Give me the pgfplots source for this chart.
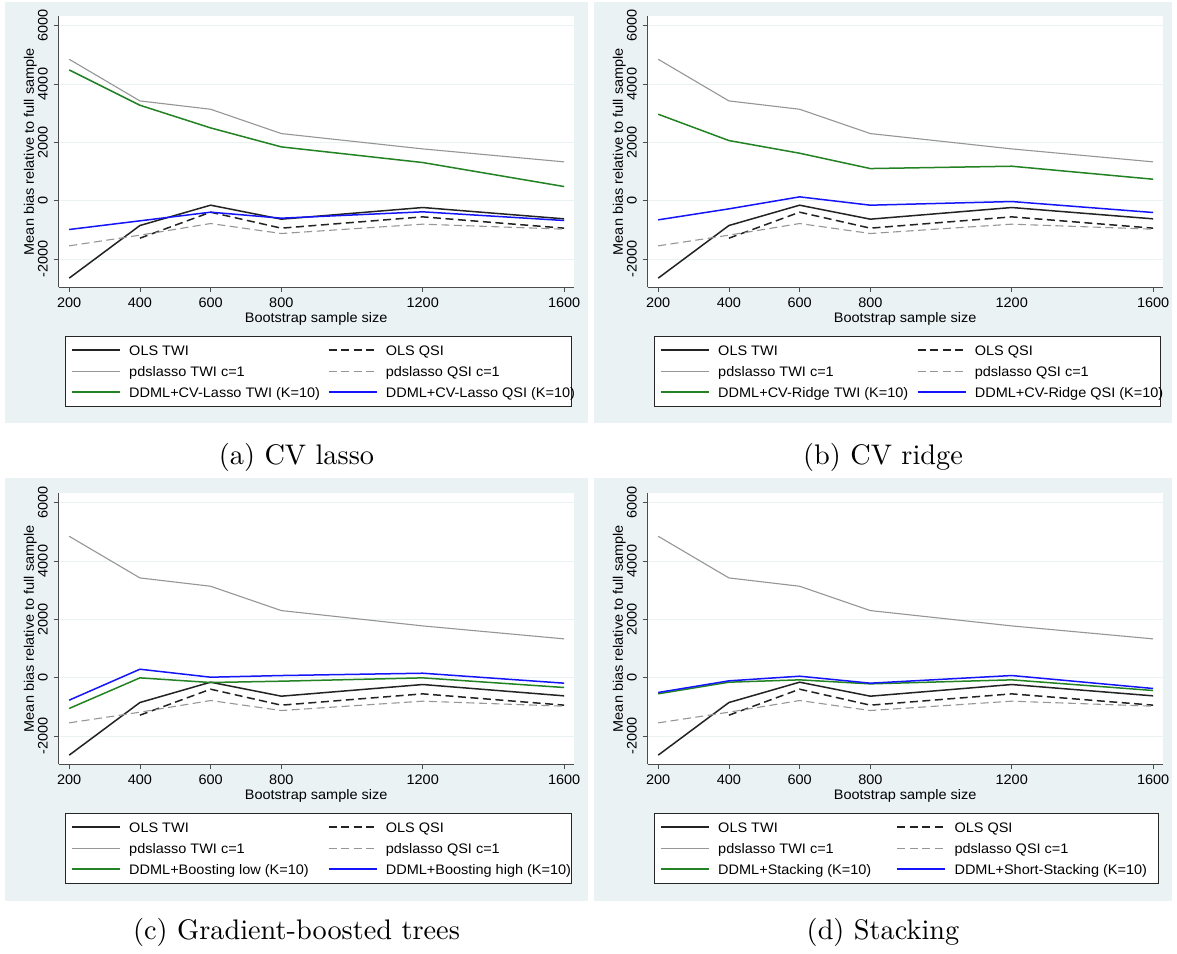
\documentclass[border=0pt]{standalone}
\usepackage{fontspec}
\usepackage{pgfplots}
\pgfplotsset{compat=1.18}
\usepackage{pgfplotstable}
\newfontfamily\statafont[FakeStretch=1.05]{Liberation Sans}
\newfontfamily\capfont{lmroman10-regular.otf}
\newcommand\sfs{\statafont\fontsize{13.8}{16.5}\selectfont}
\newcommand{\lc}[2]{\makebox[#1][l]{#2}}
\definecolor{bgcol}{RGB}{234,242,243}
\definecolor{olsc}{RGB}{35,35,35}
\definecolor{pdsc}{RGB}{150,150,150}
\definecolor{ddmlg}{RGB}{35,130,35}
\definecolor{ddmlb}{RGB}{20,20,250}

\pgfplotstableread{
x y
200 -2646
400 -844
600 -148
800 -627
1200 -228
1600 -616
}\olstwi
\pgfplotstableread{
x y
400 -1278
600 -388
800 -935
1200 -548
1600 -935
}\olsqsi
\pgfplotstableread{
x y
200 4848
400 3422
600 3137
800 2304
1200 1779
1600 1335
}\pdstwi
\pgfplotstableread{
x y
200 -1540
400 -1175
600 -776
800 -1118
1200 -798
1600 -970
}\pdsqsi
% panel a
\pgfplotstableread{
x y
200 4483
400 3274
600 2498
800 1848
1200 1312
1600 490
}\ga
\pgfplotstableread{
x y
200 -981
400 -684
600 -388
800 -593
1200 -376
1600 -673
}\ba
% panel b
\pgfplotstableread{
x y
200 2966
400 2065
600 1631
800 1106
1200 1186
1600 741
}\gb
\pgfplotstableread{
x y
200 -650
400 -274
600 137
800 -148
1200 -23
1600 -399
}\bb
% panel c
\pgfplotstableread{
x y
200 -1047
400 0
600 -159
800 -114
1200 0
1600 -330
}\gc
\pgfplotstableread{
x y
200 -763
400 296
600 23
800 80
1200 159
1600 -182
}\bc
% panel d
\pgfplotstableread{
x y
200 -546
400 -148
600 -68
800 -205
1200 -68
1600 -433
}\gd
\pgfplotstableread{
x y
200 -501
400 -102
600 57
800 -182
1200 80
1600 -364
}\bd

\pgfplotsset{
  statapanel/.style={
    scale only axis, width=515.1pt, height=271.3pt,
    xmin=170, xmax=1627, ymin=-2960, ymax=6330,
    axis x line=bottom, axis y line=left,
    axis line style={-, black!70, line width=0.8pt},
    axis background/.style={fill=white},
    xtick={200,400,600,800,1200,1600},
    xticklabels={200,400,600,800,1200,1600},
    ytick={-2000,0,2000,4000,6000},
    yticklabels={-2000,0,2000,4000,6000},
    tick align=outside, major tick length=5pt,
    tick style={black!70, line width=0.8pt},
    ymajorgrids, major grid style={bgcol, line width=1pt},
    ticklabel style={font=\sfs, inner sep=0pt},
    xticklabel style={anchor=north},
    yticklabel style={rotate=90, anchor=south},
    xticklabel shift=5.6pt, yticklabel shift=5.6pt,
    xlabel={Bootstrap sample size},
    ylabel={Mean bias relative to full sample},
    xlabel style={font=\sfs, at={(axis description cs:0.5,-0.1168)}, anchor=center, inner sep=0pt},
    ylabel style={font=\sfs, at={(axis description cs:-0.0551,0.5)}, anchor=center, inner sep=0pt},
    legend columns=2,
    legend cell align=left,
    legend image code/.code={\draw[##1] (0pt,0pt) -- (48pt,0pt);},
    legend style={
      at={(axis description cs:0.012,-0.1795)}, anchor=north west,
      draw=black!85, line width=0.7pt, fill=white,
      inner xsep=6.1pt, inner ysep=3.3pt,
      font=\sfs,
      nodes={inner xsep=8.5pt, inner ysep=5pt, text height=10.5pt, text depth=0.5pt},
      /tikz/column sep=0pt, /tikz/row sep=0pt,
    },
  },
  pOLSTWI/.style={olsc, line width=1.5pt, line join=round},
  pOLSQSI/.style={olsc, line width=1.5pt, dash pattern=on 8pt off 4.5pt, line join=round},
  pPDSTWI/.style={pdsc, line width=1.1pt, line join=round},
  pPDSQSI/.style={pdsc, line width=1.1pt, dash pattern=on 8pt off 4.5pt, line join=round},
  pG/.style={ddmlg, line width=1.5pt, line join=round},
  pB/.style={ddmlb, line width=1.5pt, line join=round},
}

\begin{document}
\begin{tikzpicture}[x=1pt,y=1pt]
\fill[white] (0,0) rectangle (1177,-953);
\fill[bgcol] (5,-1.5) rectangle (588,-423);
\fill[bgcol] (594,-1.5) rectangle (1172,-423);
\fill[bgcol] (5,-478) rectangle (588,-901);
\fill[bgcol] (594,-478) rectangle (1172,-901);

% (a)
\begin{axis}[statapanel, at={(58.6pt,-287.3pt)}, anchor=south west,
  legend entries={\lc{190.1pt}{OLS TWI},\lc{170.9pt}{OLS QSI},\lc{190.1pt}{pdslasso TWI c=1},\lc{170.9pt}{pdslasso QSI c=1},\lc{190.1pt}{DDML+CV-Lasso TWI (K=10)},\lc{170.9pt}{DDML+CV-Lasso QSI (K=10)}}]
\addplot[pOLSTWI] table {\olstwi};
\addplot[pOLSQSI] table {\olsqsi};
\addplot[pPDSTWI] table {\pdstwi};
\addplot[pPDSQSI] table {\pdsqsi};
\addplot[pG] table {\ga};
\addplot[pB] table {\ba};
\end{axis}

% (b)
\begin{axis}[statapanel, at={(647.6pt,-287.3pt)}, anchor=south west,
  legend entries={\lc{190.1pt}{OLS TWI},\lc{170.9pt}{OLS QSI},\lc{190.1pt}{pdslasso TWI c=1},\lc{170.9pt}{pdslasso QSI c=1},\lc{190.1pt}{DDML+CV-Ridge TWI (K=10)},\lc{170.9pt}{DDML+CV-Ridge QSI (K=10)}}]
\addplot[pOLSTWI] table {\olstwi};
\addplot[pOLSQSI] table {\olsqsi};
\addplot[pPDSTWI] table {\pdstwi};
\addplot[pPDSQSI] table {\pdsqsi};
\addplot[pG] table {\gb};
\addplot[pB] table {\bb};
\end{axis}

% (c)
\begin{axis}[statapanel, at={(58.6pt,-764.3pt)}, anchor=south west,
  legend entries={\lc{190.1pt}{OLS TWI},\lc{170.9pt}{OLS QSI},\lc{190.1pt}{pdslasso TWI c=1},\lc{170.9pt}{pdslasso QSI c=1},\lc{190.1pt}{DDML+Boosting low (K=10)},\lc{170.9pt}{DDML+Boosting high (K=10)}}]
\addplot[pOLSTWI] table {\olstwi};
\addplot[pOLSQSI] table {\olsqsi};
\addplot[pPDSTWI] table {\pdstwi};
\addplot[pPDSQSI] table {\pdsqsi};
\addplot[pG] table {\gc};
\addplot[pB] table {\bc};
\end{axis}

% (d)
\begin{axis}[statapanel, at={(647.6pt,-764.3pt)}, anchor=south west,
  legend entries={\lc{169.8pt}{OLS TWI},\lc{189.6pt}{OLS QSI},\lc{169.8pt}{pdslasso TWI c=1},\lc{189.6pt}{pdslasso QSI c=1},\lc{169.8pt}{DDML+Stacking (K=10)},\lc{189.6pt}{DDML+Short-Stacking (K=10)}}]
\addplot[pOLSTWI] table {\olstwi};
\addplot[pOLSQSI] table {\olsqsi};
\addplot[pPDSTWI] table {\pdstwi};
\addplot[pPDSQSI] table {\pdsqsi};
\addplot[pG] table {\gd};
\addplot[pB] table {\bd};
\end{axis}

\node[font=\capfont\fontsize{28.3}{34}\selectfont] at (296.5,-457) {(a) CV lasso};
\node[font=\capfont\fontsize{28.3}{34}\selectfont] at (883,-457) {(b) CV ridge};
\node[font=\capfont\fontsize{28.3}{34}\selectfont] at (296.5,-932) {(c) Gradient-boosted trees};
\node[font=\capfont\fontsize{28.3}{34}\selectfont] at (883,-932) {(d) Stacking};
\end{tikzpicture}
\end{document}
